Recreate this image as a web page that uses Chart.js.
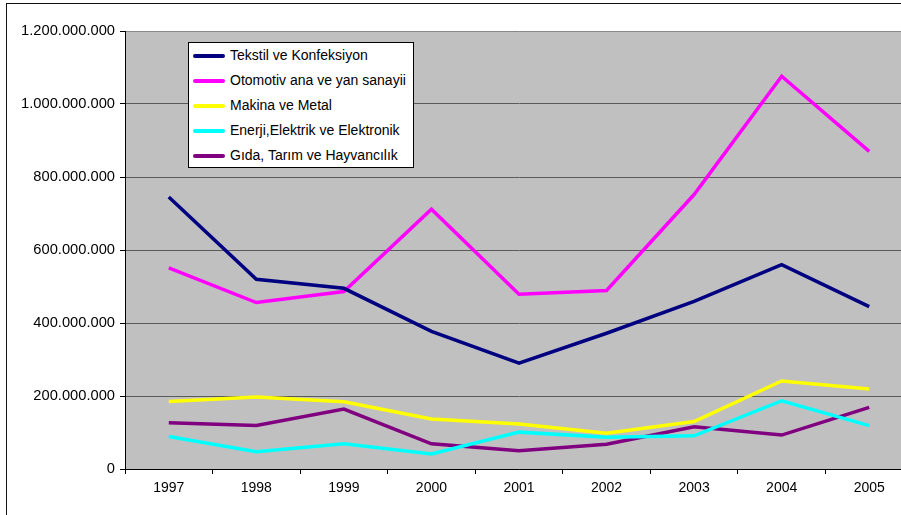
<!DOCTYPE html>
<html>
<head>
<meta charset="utf-8">
<script src="https://cdn.jsdelivr.net/npm/chart.js@4/dist/chart.umd.min.js"></script>
<style>
    html, body { margin: 0; padding: 0; background: #fff; overflow: hidden; }
    #wrap { position: relative; width: 901px; height: 515px; overflow: hidden; }
    #chart { position: absolute; left: 0; top: 0; }
    #frame {
        position: absolute; left: 6px; top: 3px; width: 1000px; height: 600px;
        border: 1.5px solid #111; pointer-events: none;
    }
    #legend {
        position: absolute; left: 188px; top: 42px; width: 224px; height: 124px;
        background: #fff; border: 1px solid #000;
        font-family: "Liberation Sans", Arial, sans-serif; font-size: 14px; color: #000;
    }
    .legend-item { position: absolute; left: 0; height: 25px; line-height: 25px; white-space: nowrap; }
    .legend-line { position: absolute; left: 4px; top: 11px; width: 32px; height: 4px; border-radius: 2px; }
    .legend-text { position: absolute; left: 41px; top: 0; }
</style>
</head>
<body>
<div id="wrap">
    <canvas id="chart" width="920" height="515" style="width:920px;height:515px"></canvas>
    <div id="legend"></div>
    <div id="frame"></div>
</div>
<script>
const years = ['1997', '1998', '1999', '2000', '2001', '2002', '2003', '2004', '2005'];

const tekstil = [745e6, 520e6, 495e6, 377e6, 290e6, 372e6, 459e6, 560e6, 445e6];
const otomotiv = [551e6, 456e6, 486e6, 712e6, 479e6, 489e6, 752e6, 1076e6, 870e6];
const makina = [185e6, 197e6, 184e6, 137e6, 123e6, 98e6, 130e6, 241e6, 219e6];
const enerji = [89e6, 47e6, 69e6, 41e6, 101e6, 87e6, 91e6, 187e6, 119e6];
const gida = [127e6, 119e6, 164e6, 69e6, 50e6, 68e6, 116e6, 93e6, 169e6];

const seriesNames = [
    'Tekstil ve Konfeksiyon',
    'Otomotiv ana ve yan sanayii',
    'Makina ve Metal',
    'Enerji,Elektrik ve Elektronik',
    'Gıda, Tarım ve Hayvancılık'
];
const seriesColors = ['#000080', '#FF00FF', '#FFFF00', '#00FFFF', '#800080'];
const seriesData = [tekstil, otomotiv, makina, enerji, gida];

const yMax = 1200000000;
const yStep = 200000000;

function formatDots(v) {
    return String(v).replace(/\B(?=(\d{3})+(?!\d))/g, '.');
}

const plotBackground = {
    id: 'plotBackground',
    beforeDraw(chart) {
        const a = chart.chartArea;
        const ctx = chart.ctx;
        ctx.save();
        ctx.fillStyle = '#C0C0C0';
        ctx.fillRect(a.left, a.top, a.right - a.left, a.bottom - a.top);
        ctx.restore();
    }
};

const xFont = { family: '"Liberation Sans", Arial, sans-serif', size: 14 };
const yFont = { family: '"Liberation Sans", Arial, sans-serif', size: 14.7 };

const chart = new Chart(document.getElementById('chart'), {
    type: 'line',
    data: {
        labels: years,
        datasets: seriesNames.map((name, i) => ({
            label: name,
            data: seriesData[i],
            borderColor: seriesColors[i],
            backgroundColor: seriesColors[i],
            borderWidth: 3.5,
            pointRadius: 0,
            tension: 0,
            fill: false
        }))
    },
    options: {
        responsive: false,
        animation: false,
        layout: { padding: { top: 31, right: 7, left: 0, bottom: 0 } },
        plugins: {
            legend: { display: false },
            tooltip: { enabled: false }
        },
        scales: {
            x: {
                offset: true,
                grid: {
                    offset: true,
                    drawOnChartArea: false,
                    drawTicks: true,
                    tickLength: 5,
                    tickColor: '#000'
                },
                border: { color: '#000', width: 1 },
                ticks: { color: '#000', font: xFont, padding: 6, maxRotation: 0 },
                afterFit(scale) { scale.height = 46; }
            },
            y: {
                min: 0,
                max: yMax,
                ticks: {
                    stepSize: yStep,
                    color: '#000',
                    font: yFont,
                    padding: 5,
                    callback: v => formatDots(v)
                },
                grid: {
                    color: ctx => ctx.tick && ctx.tick.value === yMax ? '#888' : '#5a5a5a',
                    lineWidth: 1,
                    tickLength: 5,
                    tickColor: '#000'
                },
                border: { color: '#000', width: 1 },
                afterFit(scale) { scale.width = 125; }
            }
        }
    },
    plugins: [plotBackground]
});

const legend = document.getElementById('legend');
chart.data.datasets.forEach((ds, i) => {
    const item = document.createElement('div');
    item.className = 'legend-item';
    item.style.top = (i * 25) + 'px';
    item.innerHTML = '<div class="legend-line" style="background:' + ds.borderColor + '"></div>' +
        '<span class="legend-text">' + ds.label + '</span>';
    legend.appendChild(item);
});
</script>
</body>
</html>
